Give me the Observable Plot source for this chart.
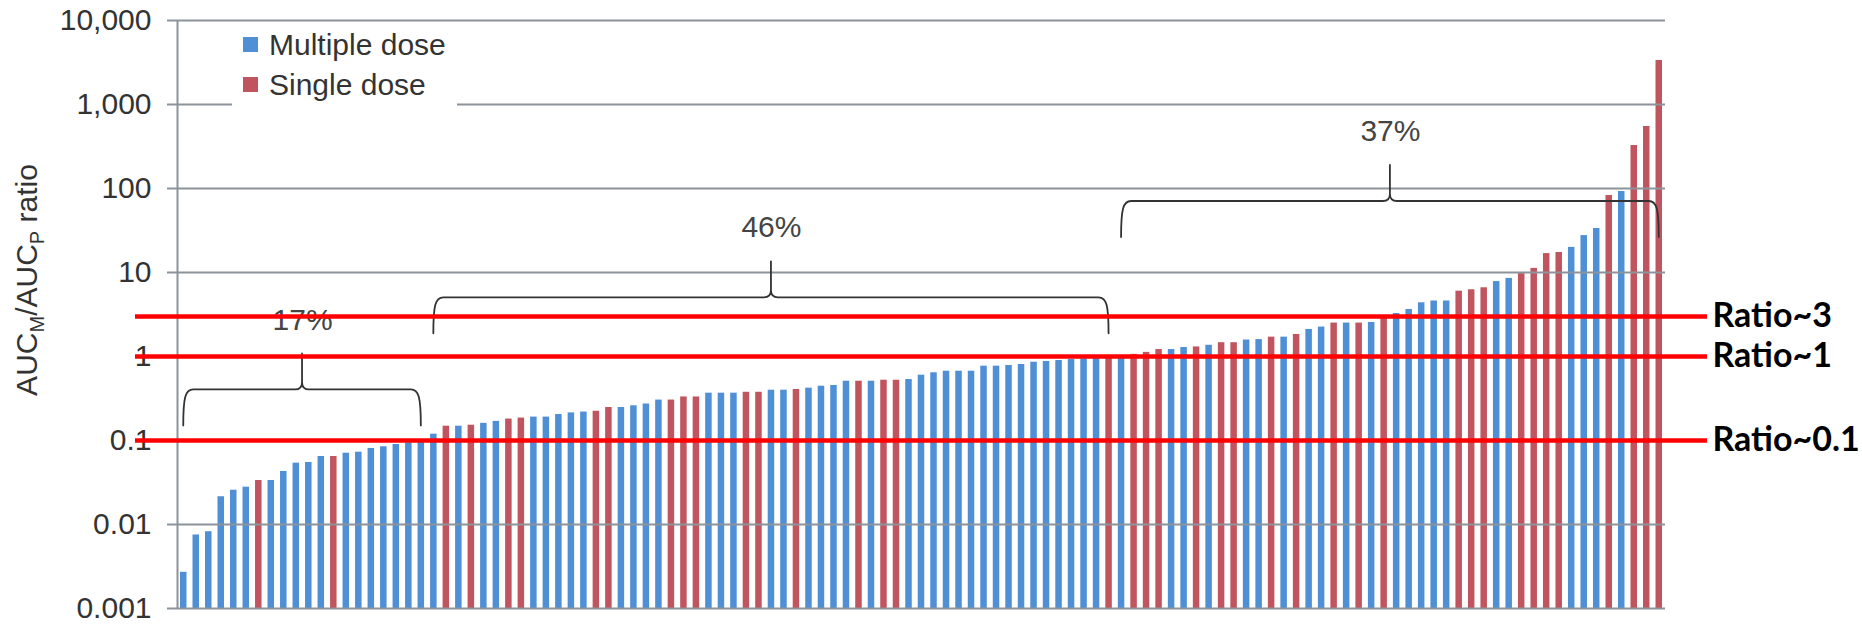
<!DOCTYPE html>
<html>
<head>
<meta charset="utf-8">
<script src="https://cdn.jsdelivr.net/npm/d3@7"></script>
<script src="https://cdn.jsdelivr.net/npm/@observablehq/plot@0.6"></script>
<style>
  html, body { margin: 0; padding: 0; background: #fff; }
  #chart svg { display: block; }
  g[aria-label="ratio-line"] { filter: drop-shadow(0px 2px 1.5px rgba(0, 0, 0, 0.35)); }
</style>
</head>
<body>
<div id="chart"></div>
<script>
// AUC_M / AUC_P ratio of each compound, sorted ascending
const ratios = [
  0.0027, 0.0075, 0.0082, 0.0214, 0.0256, 0.0278, 0.0334, 0.0334, 0.0428, 0.0537,
  0.0547, 0.0645, 0.0645, 0.0706, 0.0726, 0.0804, 0.0842, 0.0896, 0.094, 0.095,
  0.119, 0.148, 0.148, 0.152, 0.160, 0.169, 0.180, 0.185, 0.190, 0.190,
  0.204, 0.213, 0.218, 0.223, 0.247, 0.247, 0.259, 0.272, 0.303, 0.303,
  0.330, 0.330, 0.366, 0.366, 0.366, 0.375, 0.375, 0.397, 0.397, 0.405,
  0.420, 0.443, 0.452, 0.508, 0.508, 0.508, 0.522, 0.522, 0.532, 0.599,
  0.640, 0.668, 0.668, 0.668, 0.767, 0.767, 0.782, 0.803, 0.855, 0.872,
  0.896, 0.92, 0.94, 0.99, 1.01, 1.03, 1.06, 1.12, 1.21, 1.21,
  1.28, 1.30, 1.36, 1.46, 1.46, 1.57, 1.59, 1.70, 1.70, 1.83,
  2.10, 2.24, 2.50, 2.50, 2.50, 2.54, 2.89, 3.25, 3.63, 4.36,
  4.58, 4.58, 5.99, 6.23, 6.58, 7.8, 8.5, 9.7, 11.2, 16.8,
  17.3, 19.9, 27.5, 33.4, 82.6, 92, 325, 547, 3340
];

// Dosing regimen of each compound: M = multiple dose, S = single dose
const doses = [
  "M","M","M","M","M","M","S","M","M","M",
  "M","M","S","M","M","M","M","M","M","M",
  "M","S","M","S","M","M","S","S","M","M",
  "M","M","M","S","S","M","M","M","M","S",
  "S","S","M","M","M","S","S","M","M","S",
  "M","M","M","M","S","M","S","S","M","M",
  "M","M","M","M","M","M","M","M","M","M",
  "M","M","M","M","S","M","S","S","S","M",
  "M","S","M","S","S","M","M","S","M","S",
  "M","M","S","M","S","M","S","M","M","M",
  "M","M","S","S","S","M","M","S","S","S",
  "S","M","M","M","S","M","S","S","S"
];

const doseNames = {M: "Multiple dose", S: "Single dose"};
const doseOrder = ["Multiple dose", "Single dose"];
const doseColors = ["#4f8fd6", "#c1555f"];

// y axis ticks (log decades)
const yTicks = [0.001, 0.01, 0.1, 1, 10, 100, 1000, 10000];

// reference ratio lines
const ratioLines = [3, 1, 0.1];

// groups of compounds (consecutive bars) marked with braces
const groupSizes = [20, 55, 44];
const groupLabels = ["17%", "46%", "37%"];
const braceLevels = [0.4, 5, 70];

const bars = ratios.map((r, i) => ({i, ratio: r, dose: doseNames[doses[i]]}));

let first = 0;
const braces = groupSizes.map((n, k) => {
  const b = {x1: first + 0.5, x2: first + n - 0.5, level: braceLevels[k], label: groupLabels[k]};
  first += n;
  return b;
});

const gridColor = "#8d939a";
const textColor = "#333";
const labelSize = 30;

// curly braces spanning each group
const braceMark = (index, scales) => {
  const {x, y} = scales;
  const g = d3.create("svg:g")
    .attr("fill", "none")
    .attr("stroke", "#333")
    .attr("stroke-width", 1.8)
    .attr("stroke-linecap", "round");
  const depth = 36, peak = 36, r = 10, s = 7;
  for (const b of braces) {
    const xa = x(b.x1), xb = x(b.x2), xm = (xa + xb) / 2, yl = y(b.level);
    const p = d3.path();
    p.moveTo(xa, yl + depth);
    p.bezierCurveTo(xa, yl + 8, xa + 2, yl, xa + r, yl);
    p.lineTo(xm - s, yl);
    p.quadraticCurveTo(xm, yl, xm, yl - s);
    p.lineTo(xm, yl - peak);
    p.moveTo(xm, yl - s);
    p.quadraticCurveTo(xm, yl, xm + s, yl);
    p.lineTo(xb - r, yl);
    p.bezierCurveTo(xb - 2, yl, xb, yl + 8, xb, yl + depth);
    g.append("path").attr("d", p.toString());
  }
  return g.node();
};

// swatch key in the top-left corner of the frame
const legendMark = (index, scales, values, dims) => {
  const g = d3.create("svg:g").attr("text-anchor", "start");
  const x0 = dims.marginLeft + 55, y0 = dims.marginTop + 4;
  g.append("rect")
    .attr("x", x0).attr("y", y0)
    .attr("width", 225).attr("height", 82)
    .attr("fill", "#fff");
  doseOrder.forEach((name, k) => {
    const fill = scales.color ? scales.color(name) : doseColors[k];
    g.append("rect")
      .attr("x", x0 + 11).attr("y", y0 + 13 + 40 * k)
      .attr("width", 15).attr("height", 15)
      .attr("fill", fill);
    g.append("text")
      .attr("x", x0 + 37).attr("y", y0 + 20.5 + 40 * k)
      .attr("dy", "0.35em")
      .attr("text-anchor", "start")
      .attr("fill", textColor)
      .attr("font-size", labelSize)
      .text(name);
  });
  return g.node();
};

// rotated y axis title with subscripts
const yLabelMark = () => {
  const t = d3.create("svg:text")
    .attr("transform", "translate(37,280) rotate(-90)")
    .attr("text-anchor", "middle")
    .attr("fill", textColor)
    .attr("font-size", labelSize);
  t.append("tspan").text("AUC");
  t.append("tspan").attr("font-size", 20).attr("dy", 7).text("M");
  t.append("tspan").attr("dy", -7).text("/AUC");
  t.append("tspan").attr("font-size", 20).attr("dy", 7).text("P");
  t.append("tspan").attr("dy", -7).text(" ratio");
  return t.node();
};

const chart = Plot.plot({
  width: 1862,
  height: 626,
  marginTop: 20,
  marginBottom: 18,
  marginLeft: 177,
  marginRight: 197,
  style: {
    fontFamily: "'Liberation Sans', Arial, Helvetica, sans-serif",
    fontSize: `${labelSize}px`,
    color: textColor,
    background: "#fff"
  },
  x: {type: "linear", domain: [0, ratios.length], axis: null},
  y: {type: "log", domain: [0.001, 10000], axis: null},
  color: {domain: doseOrder, range: doseColors},
  marks: [
    Plot.rect(bars, {
      x1: "i",
      x2: (d) => d.i + 1,
      y1: 0.001,
      y2: "ratio",
      fill: "dose",
      insetLeft: 3,
      insetRight: 3
    }),
    Plot.gridY(yTicks, {stroke: gridColor, strokeOpacity: 1, strokeWidth: 2}),
    Plot.axisY(yTicks, {
      tickFormat: d3.format(","),
      tickSize: 10,
      tickPadding: 16,
      stroke: gridColor,
      strokeWidth: 2,
      fill: textColor,
      fontSize: labelSize
    }),
    Plot.ruleX([0], {stroke: gridColor, strokeWidth: 2}),
    legendMark,
    braceMark,
    Plot.text(braces, {
      x: (d) => (d.x1 + d.x2) / 2,
      y: "level",
      text: "label",
      dy: -70,
      fill: "#444",
      fontSize: labelSize
    }),
    Plot.ruleY(ratioLines, {
      stroke: "#ff0000",
      strokeWidth: 4.5,
      insetLeft: -42,
      insetRight: -42,
      ariaLabel: "ratio-line"
    }),
    Plot.text(ratioLines, {
      y: (d) => d,
      text: (d) => `Ratio~${d}`,
      frameAnchor: "right",
      textAnchor: "start",
      dx: 47,
      fontFamily: "Lato, 'Open Sans', sans-serif",
      fontWeight: "bold",
      fontSize: 34,
      fill: "#000"
    }),
    yLabelMark
  ]
});

document.getElementById("chart").appendChild(chart);
</script>
</body>
</html>
